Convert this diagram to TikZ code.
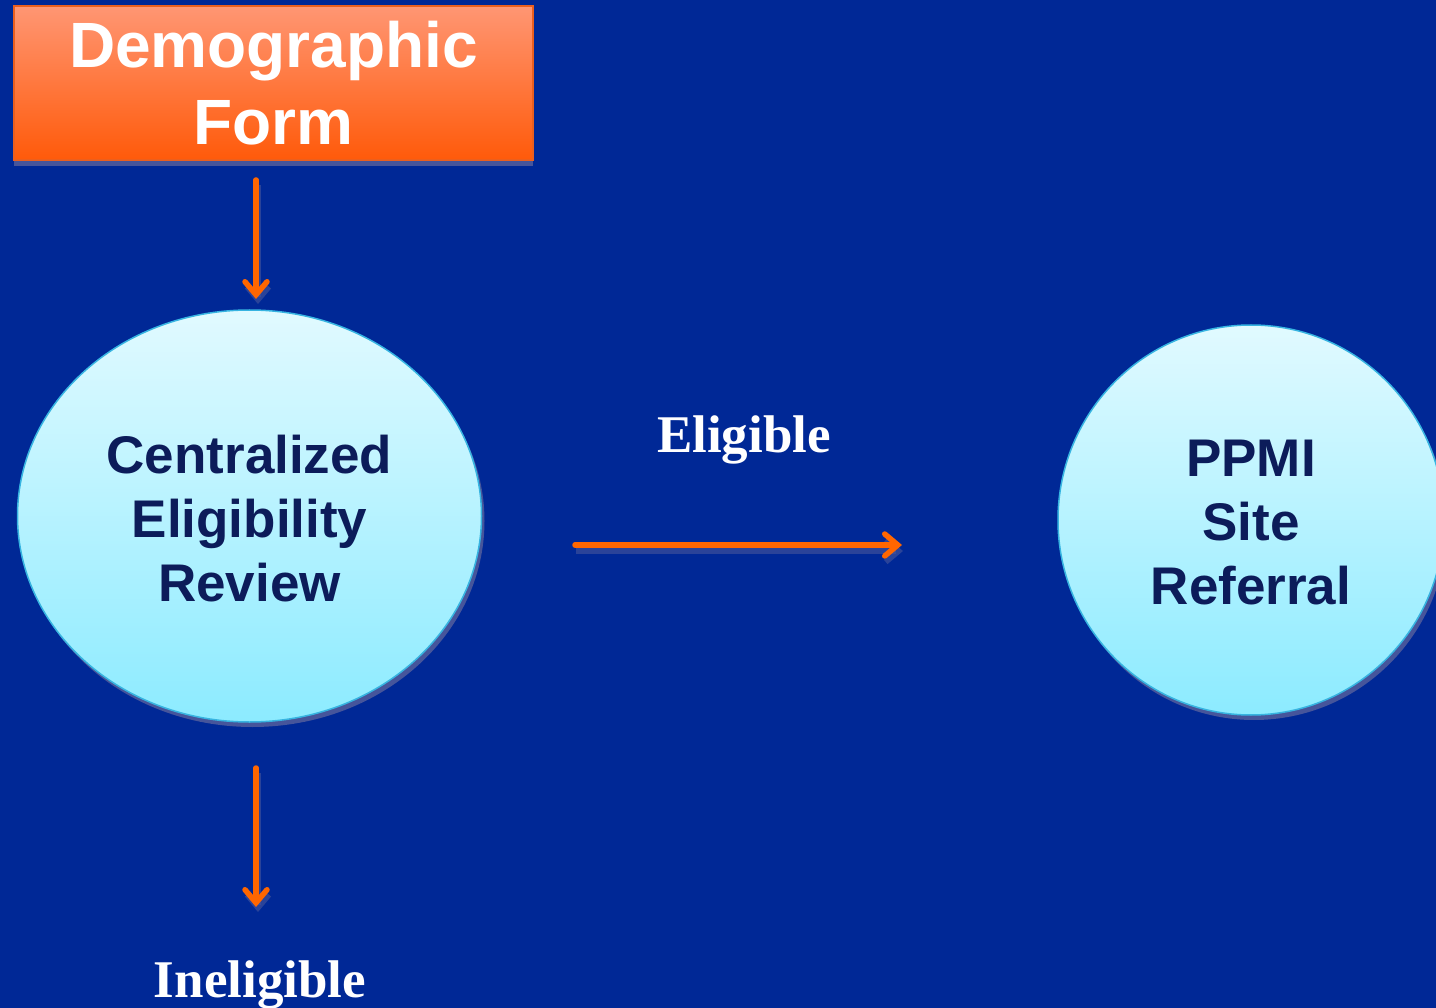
\documentclass[tikz,border=0pt]{standalone}
\usepackage{fontspec}
\setmainfont{Liberation Serif}
\newfontfamily\arialfont{Liberation Sans}
\usetikzlibrary{shapes.geometric,arrows.meta,shadows}
\definecolor{bgblue}{RGB}{0,40,150}
\definecolor{boxtop}{RGB}{255,150,115}
\definecolor{boxbot}{RGB}{255,90,10}
\definecolor{boxedge}{RGB}{235,95,30}
\definecolor{elltop}{RGB}{225,250,255}
\definecolor{ellbot}{RGB}{140,235,255}
\definecolor{elledge}{RGB}{55,180,225}
\definecolor{navytext}{RGB}{12,28,90}
\definecolor{arrowor}{RGB}{255,102,0}
\definecolor{shadowcol}{RGB}{70,85,155}
\tikzset{
  formbox/.style={draw=boxedge, line width=1.2pt, top color=boxtop, bottom color=boxbot,
    minimum width=519pt, minimum height=154pt, inner sep=0pt, align=center,
    text=white, font=\arialfont\bfseries\fontsize{64}{77}\selectfont,
    drop shadow={shadow xshift=0pt, shadow yshift=-6pt, fill=shadowcol, opacity=1}},
  stage/.style={ellipse, draw=elledge, line width=1.5pt, top color=elltop, bottom color=ellbot,
    inner sep=0pt, align=center, text=navytext,
    font=\arialfont\bfseries\fontsize{53}{64}\selectfont,
    drop shadow={shadow xshift=3pt, shadow yshift=-5pt, fill=shadowcol, opacity=1}},
  flow/.style={draw=arrowor, line width=5.5pt, line cap=round,
    -{Straight Barb[length=13pt, width=22pt, line width=5.5pt, line cap=round]}},
  flowshadow/.style={draw=shadowcol, line width=5.5pt, opacity=0.6,
    -{Straight Barb[length=13pt, width=22pt, line width=5.5pt]}},
  outcome/.style={text=white, font=\bfseries\fontsize{53}{60}\selectfont, inner sep=0pt, anchor=base}
}
\begin{document}
\begin{tikzpicture}[x=1pt,y=-1pt]
\fill[bgblue] (0,0) rectangle (1436,1008);
\useasboundingbox (0,0) rectangle (1436,1008);
\clip (0,0) rectangle (1436,1008);

\node[formbox] (form) at (273.5,83) {Demographic\\Form};
\node[stage, minimum width=464pt, minimum height=412pt] (cer) at (249.5,516) {};
\node[stage, minimum width=386pt, minimum height=390pt] (ppmi) at (1251,520) {};
\node[align=center, text=navytext, font=\arialfont\bfseries\fontsize{53}{64}\selectfont, inner sep=0pt]
  (certext) at ([yshift=-3pt]cer.center) {Centralized\\Eligibility\\Review};
\node[align=center, text=navytext, font=\arialfont\bfseries\fontsize{53}{64}\selectfont, inner sep=0pt]
  (ppmitext) at ([yshift=-3pt]ppmi.center) {PPMI\\Site\\Referral};

\node[outcome] (elig) at (744,452) {Eligible};
\node[outcome] (inelig) at (260,997) {Ineligible};

\coordinate (a1s) at (256,180);
\coordinate (a1e) at (256,299);
\coordinate (a2s) at (575,545);
\coordinate (a2e) at (902,545);
\coordinate (a3s) at (256,768);
\coordinate (a3e) at (256,907);

\draw[flowshadow] ([shift={(2,5)}]a1s) -- ([shift={(2,5)}]a1e);
\draw[flowshadow] ([shift={(1,6)}]a2s) -- ([shift={(1,6)}]a2e);
\draw[flowshadow] ([shift={(2,5)}]a3s) -- ([shift={(2,5)}]a3e);
\draw[flow] (a1s) -- (a1e);
\draw[flow] (a2s) -- (a2e);
\draw[flow] (a3s) -- (a3e);
\end{tikzpicture}
\end{document}
